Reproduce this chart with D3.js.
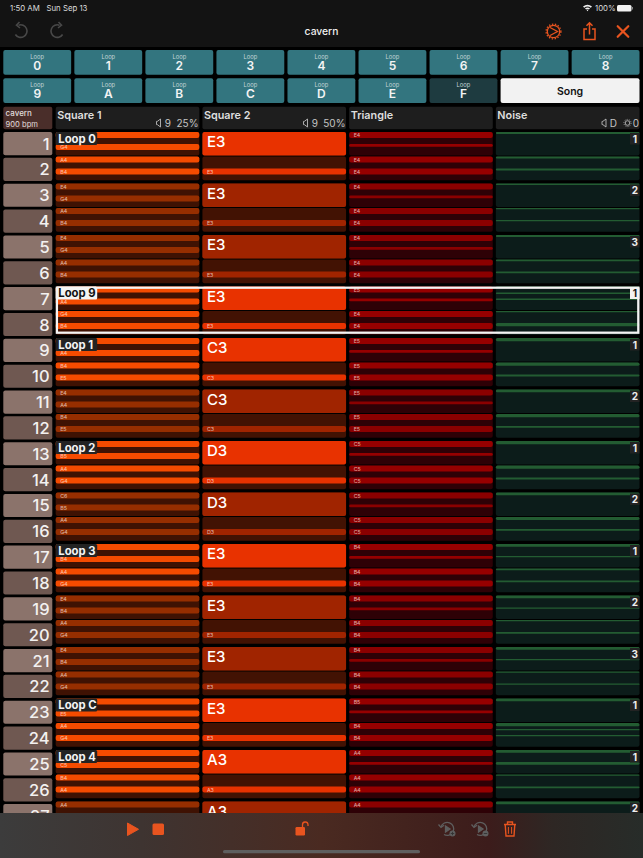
<!DOCTYPE html>
<html>
<head>
<meta charset="utf-8">
<script src="https://cdn.jsdelivr.net/npm/d3@7"></script>
<style>
  html, body { margin: 0; background: #000; }
  svg { display: block; }
  text { font-family: Inter, 'Noto Sans', sans-serif; }
</style>
</head>
<body>
<svg id="chart" width="643" height="858"></svg>
<script>
/* global d3 */
const loopNames = ['0', '1', '2', '3', '4', '5', '6', '7', '8', '9', 'A', 'B', 'C', 'D', 'E', 'F'];
const channels = ['Square 1', 'Square 2', 'Triangle', 'Noise'];
const rowNumbers = d3.range(1, 28);

// two notes per row, first and third step
const square1Notes = [
  ['E4', 'G4'], ['A4', 'B4'], ['E4', 'G4'], ['A4', 'B4'], ['E4', 'G4'], ['A4', 'B4'],
  ['E4', 'A4'], ['G4', 'B4'], ['E4', 'A4'], ['B4', 'E5'], ['E4', 'A4'], ['B4', 'E5'],
  ['C6', 'B5'], ['A4', 'G4'], ['C6', 'B5'], ['A4', 'G4'], ['E4', 'B4'], ['A4', 'G4'],
  ['E4', 'B4'], ['A4', 'G4'], ['E4', 'B4'], ['A4', 'G4'], ['E4', 'E5'], ['A4', 'G4'],
  ['E4', 'C5'], ['B4', 'A4'], ['A4', 'C5'],
];
const square2Notes = [
  'E3', 'E3', 'E3', 'E3', 'E3', 'E3', 'E3', 'E3', 'C3', 'C3', 'C3', 'C3', 'D3', 'D3',
  'D3', 'D3', 'E3', 'E3', 'E3', 'E3', 'E3', 'E3', 'E3', 'E3', 'A3', 'A3', 'A3',
];
const triangleNotes = [
  'E4', 'E4', 'E4', 'E4', 'E4', 'E4', 'E5', 'E4', 'E5', 'E5', 'E5', 'E5', 'C5', 'C5',
  'C5', 'C5', 'B4', 'B4', 'B4', 'B4', 'B4', 'B4', 'B5', 'B4', 'A4', 'A4', 'A4',
];
// rows of a pattern heard for the first time are drawn bright
const brightRows = [1, 2, 7, 8, 9, 10, 13, 14, 17, 18, 23, 24, 25, 26];
const loopLabels = [
  [1, 'Loop 0'], [7, 'Loop 9'], [9, 'Loop 1'], [13, 'Loop 2'],
  [17, 'Loop 3'], [23, 'Loop C'], [25, 'Loop 4'],
];
// [step, volume] hits for each noise row
const noiseHits = [
  [[0, 5]], [[0, 5], [2, 5]], [[0, 4]], [[0, 3], [2, 3]], [[0, 5]], [[0, 4], [2, 4]],
  [[0, 4], [1, 4], [2, 4]], [[0, 3], [2, 8]], [[0, 8]], [[0, 8], [2, 5]], [[0, 7]], [[0, 8], [2, 4]],
  [[0, 8]], [[0, 8], [2, 5]], [[0, 7]], [[0, 7], [2, 4]], [[0, 7], [2, 3]], [[0, 4], [2, 4]],
  [[0, 7], [2, 3]], [[0, 3], [2, 4]], [[0, 7], [2, 3]], [[0, 3], [2, 3]], [[0, 7]], [[0, 8], [1, 3], [2, 3]],
  [[0, 7], [2, 7]], [[0, 3], [2, 4]], [[0, 7]],
];
const noiseBars = [
  [1, '1'], [3, '2'], [5, '3'], [7, '1'], [9, '1'], [11, '2'], [13, '1'],
  [15, '2'], [17, '1'], [19, '2'], [21, '3'], [23, '1'], [25, '1'], [27, '2'],
];
const selectedRows = [7, 8];

const svg = d3.select('#chart');
const ORANGE = '#e8541f';

const x = d3.scaleBand().domain(channels).range([55.7, 639.5]).paddingInner(0.021);
const rowY = d3.scaleBand().domain(rowNumbers).range([132, 132 + 27 * 25.75]).paddingInner(0.105).align(0);
const pairY = d3.scaleLinear().domain([0, 1]).range([132, 183.5]);
const stepY = d3.scaleLinear().domain([0, 4]).range([0, 24]);
const volumeH = d3.scaleLinear().domain([0, 15]).range([0, 6]);
const buttonX = d3.scaleBand().domain(d3.range(9)).range([3.3, 639.5]).paddingInner(0.045);

function cellTop(row) {
  return pairY(Math.floor((row - 1) / 2)) + ((row - 1) % 2) * 24.6;
}

function isBright(row) {
  return brightRows.includes(row);
}

function isTagged(row) {
  return loopLabels.some((d) => d[0] === row);
}

function drawChrome() {
  svg.append('rect').attr('width', 643).attr('height', 47).attr('fill', '#131313');
  svg.append('text').attr('x', 10).attr('y', 10.5).attr('font-size', 7.8).attr('fill', '#ddd').text('1:50 AM');
  svg.append('text').attr('x', 46.5).attr('y', 10.5).attr('font-size', 7.8).attr('fill', '#ddd').text('Sun Sep 13');
  svg.append('text').attr('x', 595).attr('y', 10.5).attr('font-size', 7.8).attr('fill', '#ddd').text('100%');
  svg.append('path').attr('transform', 'translate(587.5,10.5)')
    .attr('d', 'M-4.5,-4 Q0,-7.5 4.5,-4 L3.3,-2.8 Q0,-5.4 -3.3,-2.8Z M-2.5,-2 Q0,-3.8 2.5,-2 L1.4,-.9 Q0,-1.9 -1.4,-.9Z M-.8,-.2 L0,-1 L.8,-.2 L0,.8Z')
    .attr('fill', '#eee');
  svg.append('rect').attr('x', 617).attr('y', 5).attr('width', 14.5).attr('height', 6.5).attr('rx', 1.5).attr('fill', '#f2f2f2');
  svg.append('rect').attr('x', 632).attr('y', 7).attr('width', 1).attr('height', 2.5).attr('fill', '#888');
  svg.append('text').attr('x', 321.5).attr('y', 35).attr('text-anchor', 'middle')
    .attr('font-size', 10.3).attr('font-weight', 500).attr('fill', '#f0f0f0').text('cavern');

  // undo, redo
  [[21, 1], [57, -1]].forEach(([cx, flip]) => {
    const g = svg.append('g').attr('transform', `translate(${cx},31.5) scale(${flip},1)`)
      .attr('fill', 'none').attr('stroke', '#484848').attr('stroke-width', 1.6);
    g.append('path').attr('d', 'M-2.5,-6.3 A6.3,6.3 0 1 1 -5.6,3');
    g.append('path').attr('d', 'M-1.5,-9.5 L-4.5,-6.3 L-1,-3.5');
  });

  // settings
  const gear = svg.append('g').attr('transform', 'translate(553.5,31.5)')
    .attr('fill', 'none').attr('stroke', ORANGE);
  gear.append('circle').attr('r', 6.2).attr('stroke-width', 1.3);
  gear.append('circle').attr('r', 7.4).attr('stroke-width', 1.3).attr('stroke-dasharray', '1.4 1.6');
  gear.append('path').attr('d', 'M-3.5,-4 L4,0 L-3.5,4').attr('stroke-width', 1.3);

  // share
  const share = svg.append('g').attr('transform', 'translate(589.5,31.5)')
    .attr('fill', 'none').attr('stroke', ORANGE).attr('stroke-width', 1.5);
  share.append('path').attr('d', 'M-2.5,-2.5 H-5.5 V8 H5.5 V-2.5 H2.5');
  share.append('path').attr('d', 'M0,3 V-8.5 M-3,-5.8 L0,-8.7 L3,-5.8');

  // close
  svg.append('path').attr('transform', 'translate(623,31.5)')
    .attr('d', 'M-5.3,-5.3 L5.3,5.3 M5.3,-5.3 L-5.3,5.3')
    .attr('stroke', ORANGE).attr('stroke-width', 2.2).attr('stroke-linecap', 'round');
}

function drawLoopButtons() {
  const buttons = svg.append('g').selectAll('g')
    .data(loopNames)
    .join('g')
    .attr('transform', (d, i) => `translate(${buttonX(i % 9)},${i < 9 ? 50 : 78.3})`);

  buttons.append('rect')
    .attr('width', buttonX.bandwidth())
    .attr('height', 24.7)
    .attr('rx', 2)
    .attr('fill', (d) => (d === 'F' ? '#1e3b40' : '#33757f'));

  buttons.append('text')
    .attr('x', buttonX.bandwidth() / 2)
    .attr('y', 8.5)
    .attr('text-anchor', 'middle')
    .attr('font-size', 5.8)
    .attr('fill', '#c3d5d8')
    .text('Loop');

  buttons.append('text')
    .attr('x', buttonX.bandwidth() / 2)
    .attr('y', 20)
    .attr('text-anchor', 'middle')
    .attr('font-size', 12)
    .attr('font-weight', 600)
    .attr('fill', '#f4f4f4')
    .text((d) => d);

  const song = svg.append('g');
  song.append('rect')
    .attr('x', buttonX(7))
    .attr('y', 78.3)
    .attr('width', buttonX(8) + buttonX.bandwidth() - buttonX(7))
    .attr('height', 24.7)
    .attr('rx', 2)
    .attr('fill', '#f2f2f2');
  song.append('text')
    .attr('x', (buttonX(7) + buttonX(8) + buttonX.bandwidth()) / 2)
    .attr('y', 94.6)
    .attr('text-anchor', 'middle')
    .attr('font-size', 10.5)
    .attr('font-weight', 600)
    .attr('fill', '#111')
    .text('Song');
}

function speaker(g, sx) {
  g.append('path')
    .attr('transform', `translate(${sx},123)`)
    .attr('d', 'M4,-4 V4 L.8,1.6 H0 V-1.6 H.8 Z')
    .attr('fill', 'none')
    .attr('stroke', '#bbb')
    .attr('stroke-width', 0.9);
}

function headerText(g, tx, label) {
  g.append('text')
    .attr('x', tx)
    .attr('y', 126.7)
    .attr('text-anchor', 'end')
    .attr('font-size', 10)
    .attr('fill', '#c4c4c4')
    .text(label);
}

function drawHeader() {
  svg.append('rect').attr('x', 3.3).attr('y', 106.7).attr('width', 49).attr('height', 22.6).attr('rx', 2).attr('fill', '#4a2e2a');
  svg.append('text').attr('x', 5.6).attr('y', 116).attr('font-size', 8).attr('font-weight', 500).attr('fill', '#e0dcdc').text('cavern');
  svg.append('text').attr('x', 5.6).attr('y', 126.5).attr('font-size', 7.6).attr('fill', '#e0dcdc').text('900 bpm');

  const head = svg.append('g').selectAll('g')
    .data(channels)
    .join('g');
  head.append('rect')
    .attr('x', (d) => x(d))
    .attr('y', 106.7)
    .attr('width', x.bandwidth())
    .attr('height', 22.6)
    .attr('rx', 2)
    .attr('fill', '#1e1e1e');
  head.append('text')
    .attr('x', (d) => x(d) + 1.5)
    .attr('y', 119)
    .attr('font-size', 10.8)
    .attr('font-weight', 600)
    .attr('fill', '#dedede')
    .text((d) => d);

  const g = svg.append('g');
  speaker(g, 156.5);
  headerText(g, 171, '9');
  headerText(g, 198.5, '25%');
  speaker(g, 303.5);
  headerText(g, 318, '9');
  headerText(g, 345.5, '50%');
  speaker(g, 602);
  headerText(g, 617, 'D');
  headerText(g, 639, '0');

  const sun = g.append('g').attr('transform', 'translate(627.5,123)')
    .attr('fill', 'none').attr('stroke', '#bbb');
  sun.append('circle').attr('r', 2.3).attr('stroke-width', 0.9);
  sun.append('circle').attr('r', 3.6).attr('stroke-width', 0.9).attr('stroke-dasharray', '0.9 1.35');
}

function drawRowNumbers() {
  const rows = svg.append('g').selectAll('g')
    .data(rowNumbers)
    .join('g')
    .attr('transform', (d) => `translate(3.3,${rowY(d)})`);

  rows.append('rect')
    .attr('width', 49)
    .attr('height', rowY.bandwidth())
    .attr('rx', 2)
    .attr('fill', (d) => (d % 2 ? '#8b736b' : '#6f5851'));

  rows.append('text')
    .attr('x', 46.3)
    .attr('y', rowY.bandwidth() / 2 + 6)
    .attr('text-anchor', 'end')
    .attr('font-size', 16.5)
    .attr('font-weight', 500)
    .attr('fill', '#f3f1f0')
    .text((d) => d);
}

function drawCells(channel, fill) {
  return svg.append('g').selectAll('rect')
    .data(rowNumbers)
    .join('rect')
    .attr('x', x(channel))
    .attr('y', cellTop)
    .attr('width', x.bandwidth())
    .attr('height', 23.6)
    .attr('rx', 2)
    .attr('fill', fill);
}

function drawSteps(channel, steps) {
  const g = svg.append('g');
  g.selectAll('rect')
    .data(steps)
    .join('rect')
    .attr('x', x(channel))
    .attr('y', (d) => cellTop(d.row) + stepY(d.step))
    .attr('width', x.bandwidth())
    .attr('height', (d) => volumeH(d.volume))
    .attr('rx', (d) => Math.min(2, volumeH(d.volume) / 2))
    .attr('fill', (d) => d.fill);
  g.selectAll('text')
    .data(steps.filter((d) => d.note))
    .join('text')
    .attr('x', x(channel) + 4.5)
    .attr('y', (d) => cellTop(d.row) + stepY(d.step) + 5)
    .attr('font-size', 5.3)
    .attr('fill', 'rgba(255,240,235,0.72)')
    .text((d) => d.note);
}

function drawSquare1() {
  drawCells('Square 1', '#3f1203');
  // the loop tag sits on top of the first note of a tagged row
  const steps = rowNumbers.flatMap((row, i) => square1Notes[i].map((note, n) => ({
    row,
    step: n * 2,
    volume: 15,
    note: n === 0 && isTagged(row) ? null : note,
    fill: isBright(row) ? '#f54b00' : '#962e00',
  })));
  drawSteps('Square 1', steps);
}

function drawSquare2() {
  drawCells('Square 2', '#421203');
  const color = (row) => (isBright(row) ? '#e83200' : '#a02400');
  const held = rowNumbers.filter((row) => row % 2);
  const g = svg.append('g');
  g.selectAll('rect')
    .data(held)
    .join('rect')
    .attr('x', x('Square 2'))
    .attr('y', cellTop)
    .attr('width', x.bandwidth())
    .attr('height', 23.6)
    .attr('rx', 2)
    .attr('fill', color);
  g.selectAll('text')
    .data(held)
    .join('text')
    .attr('x', x('Square 2') + 4.6)
    .attr('y', (d) => cellTop(d) + 15.3)
    .attr('font-size', 15)
    .attr('font-weight', 500)
    .attr('fill', '#fff')
    .text((d) => square2Notes[d - 1]);
  const steps = rowNumbers.filter((row) => !(row % 2)).map((row) => ({
    row, step: 2, volume: 15, note: square2Notes[row - 1], fill: color(row),
  }));
  drawSteps('Square 2', steps);
}

function drawTriangle() {
  drawCells('Triangle', '#2e0106');
  const color = (row) => (isBright(row) ? '#960000' : '#8b0000');
  const steps = rowNumbers.flatMap((row, i) => {
    const odd = row % 2;
    return [
      { row, step: 0, volume: 15, note: triangleNotes[i], fill: color(row) },
      { row, step: 2, volume: odd ? 7 : 15, note: odd ? null : triangleNotes[i], fill: color(row) },
    ];
  });
  drawSteps('Triangle', steps);
}

function drawNoise() {
  drawCells('Noise', '#0c1c1a');
  const steps = rowNumbers.flatMap((row, i) => noiseHits[i].map(([step, volume]) => ({
    row, step, volume, note: null, fill: '#235c32',
  })));
  drawSteps('Noise', steps);

  const badges = svg.append('g').selectAll('g')
    .data(noiseBars)
    .join('g')
    .attr('transform', (d) => `translate(${x('Noise') + x.bandwidth()},${cellTop(d[0])})`);
  badges.append('rect')
    .attr('x', -9.5)
    .attr('y', 1)
    .attr('width', 9.5)
    .attr('height', 11.5)
    .attr('fill', (d) => (selectedRows.includes(d[0]) ? '#f2f2f2' : '#232323'));
  badges.append('text')
    .attr('x', -4.7)
    .attr('y', 10.5)
    .attr('text-anchor', 'middle')
    .attr('font-size', 10)
    .attr('font-weight', 700)
    .attr('fill', (d) => (selectedRows.includes(d[0]) ? '#111' : '#eee'))
    .text((d) => d[1]);
}

function drawLoopLabels() {
  const tags = svg.append('g').selectAll('g')
    .data(loopLabels)
    .join('g')
    .attr('transform', (d) => `translate(${x('Square 1')},${cellTop(d[0])})`);
  tags.append('rect')
    .attr('width', 41.5)
    .attr('height', 13)
    .attr('rx', 1.5)
    .attr('fill', (d) => (selectedRows.includes(d[0]) ? '#f4f4f4' : '#232323'));
  tags.append('text')
    .attr('x', 2.6)
    .attr('y', 10.6)
    .attr('font-size', 11.3)
    .attr('font-weight', 700)
    .attr('fill', (d) => (selectedRows.includes(d[0]) ? '#111' : '#f4f4f4'))
    .text((d) => d[1]);
}

function drawSelection() {
  const top = cellTop(selectedRows[0]);
  svg.append('rect')
    .attr('x', x('Square 1') + 1.2)
    .attr('y', top + 1.2)
    .attr('width', x('Noise') + x.bandwidth() - x('Square 1') - 2.4)
    .attr('height', 45)
    .attr('fill', 'none')
    .attr('stroke', '#f4f4f4')
    .attr('stroke-width', 2.3);
}

function drawToolbar() {
  const grad = svg.append('defs').append('linearGradient').attr('id', 'bar');
  [['0%', '#3c3c3c'], ['22%', '#3e3431'], ['50%', '#4a2a21'], ['76%', '#3c1c1b'], ['86%', '#2e2724'], ['100%', '#272c29']]
    .forEach(([offset, color]) => {
      grad.append('stop').attr('offset', offset).attr('stop-color', color);
    });
  svg.append('rect').attr('y', 813).attr('width', 643).attr('height', 45).attr('fill', 'url(#bar)');

  svg.append('path').attr('d', 'M127.5,823 L138.5,829.3 L127.5,835.5Z')
    .attr('fill', ORANGE).attr('stroke', ORANGE).attr('stroke-linejoin', 'round');
  svg.append('rect').attr('x', 152.5).attr('y', 823.5).attr('width', 11.5).attr('height', 11.5).attr('rx', 1.5).attr('fill', ORANGE);

  // open lock
  svg.append('rect').attr('x', 295.5).attr('y', 827).attr('width', 9.5).attr('height', 8.5).attr('rx', 1.2).attr('fill', ORANGE);
  svg.append('path').attr('d', 'M302.5,827 V825 A2.6,2.6 0 0 1 308,824.5 V826')
    .attr('fill', 'none').attr('stroke', ORANGE).attr('stroke-width', 1.3);

  // add and remove from queue
  [[447, 'add'], [480, 'remove']].forEach(([cx, kind]) => {
    const g = svg.append('g').attr('transform', `translate(${cx},829)`)
      .attr('fill', 'none').attr('stroke', '#5e5e5e').attr('stroke-width', 1.3);
    g.append('path').attr('d', 'M-6,-2 A6.5,6.5 0 1 1 -3,5.5');
    g.append('path').attr('d', 'M-8.5,-4.5 L-6,-1.6 L-3,-3.8');
    g.append('path').attr('d', 'M-1.5,-3 L3,0 L-1.5,3Z').attr('fill', '#5e5e5e');
    g.append('circle').attr('cx', 5.5).attr('cy', 4.5).attr('r', 3).attr('fill', '#5e5e5e').attr('stroke', 'none');
    g.append('path').attr('d', kind === 'add' ? 'M3.8,4.5 H7.2 M5.5,2.8 V6.2' : 'M3.8,4.5 H7.2')
      .attr('stroke', '#333').attr('stroke-width', 0.9);
  });

  // trash
  const trash = svg.append('g').attr('transform', 'translate(510,829)')
    .attr('fill', 'none').attr('stroke', ORANGE).attr('stroke-width', 1.4);
  trash.append('path').attr('d', 'M-6,-4.5 H6 M-2.5,-4.5 V-7 H2.5 V-4.5');
  trash.append('path').attr('d', 'M-4.8,-4.5 L-4,7 H4 L4.8,-4.5');
  trash.append('path').attr('d', 'M-1.6,-2 V4.8 M1.6,-2 V4.8').attr('stroke-width', 1);

  svg.append('rect').attr('x', 223).attr('y', 850).attr('width', 197).attr('height', 3.3).attr('rx', 1.6).attr('fill', '#5f5f5f');
}

function init() {
  drawChrome();
  drawLoopButtons();
  drawHeader();
  drawRowNumbers();
  drawSquare1();
  drawSquare2();
  drawTriangle();
  drawNoise();
  drawSelection();
  drawLoopLabels();
  drawToolbar();
}

init();
</script>
</body>
</html>
